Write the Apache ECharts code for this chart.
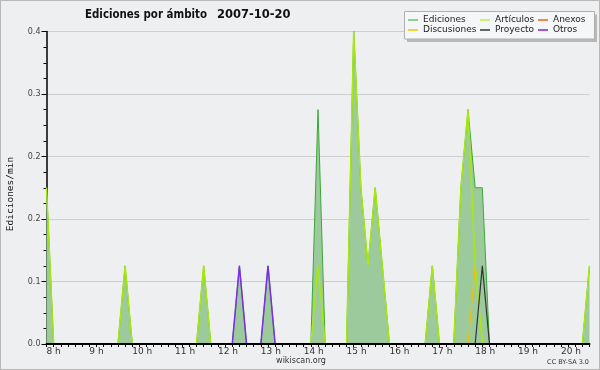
<!DOCTYPE html>
<html>
<head>
<meta charset="utf-8">
<script src="https://cdn.jsdelivr.net/npm/echarts@6/dist/echarts.min.js"></script>
<style>
  html, body { margin: 0; padding: 0; background: #eeeff0; }
  #chart { width: 600px; height: 370px; }
</style>
</head>
<body>
<div id="chart"></div>
<script>
// ---- Data (10-minute bins, 8:00 to 20:40) ----
const categories = [
  '8:00','8:10','8:20','8:30','8:40','8:50',
  '9:00','9:10','9:20','9:30','9:40','9:50',
  '10:00','10:10','10:20','10:30','10:40','10:50',
  '11:00','11:10','11:20','11:30','11:40','11:50',
  '12:00','12:10','12:20','12:30','12:40','12:50',
  '13:00','13:10','13:20','13:30','13:40','13:50',
  '14:00','14:10','14:20','14:30','14:40','14:50',
  '15:00','15:10','15:20','15:30','15:40','15:50',
  '16:00','16:10','16:20','16:30','16:40','16:50',
  '17:00','17:10','17:20','17:30','17:40','17:50',
  '18:00','18:10','18:20','18:30','18:40','18:50',
  '19:00','19:10','19:20','19:30','19:40','19:50',
  '20:00','20:10','20:20','20:30','20:40'
];
const hourLabels = ['8 h','9 h','10 h','11 h','12 h','13 h','14 h','15 h','16 h','17 h','18 h','19 h','20 h'];
const yTickValues = [0, 0.08, 0.16, 0.24, 0.32, 0.4];

const ediciones = [
  0.2,0,0,0,0,0,
  0,0,0,0,0,0.1,
  0,0,0,0,0,0,
  0,0,0,0,0.1,0,
  0,0,0,0.1,0,0,
  0,0.1,0,0,0,0,
  0,0,0.3,0,0,0,
  0,0.4,0.2,0.1,0.2,0.1,
  0,0,0,0,0,0,
  0.1,0,0,0,0.2,0.3,
  0.2,0.2,0,0,0,0,
  0,0,0,0,0,0,
  0,0,0,0,0.1
];
const articulos = [
  0.2,0,0,0,0,0,
  0,0,0,0,0,0.1,
  0,0,0,0,0,0,
  0,0,0,0,0.1,0,
  0,0,0,0,0,0,
  0,0,0,0,0,0,
  0,0,0.1,0,0,0,
  0,0.4,0.2,0.1,0.2,0.1,
  0,0,0,0,0,0,
  0.1,0,0,0,0.2,0.3,
  0.1,0,0,0,0,0,
  0,0,0,0,0,0,
  0,0,0,0,0.1
];
const discusiones = [
  0,0,0,0,0,0, 0,0,0,0,0,0, 0,0,0,0,0,0, 0,0,0,0,0,0,
  0,0,0,0,0,0, 0,0,0,0,0,0, 0,0,0,0,0,0, 0,0,0,0,0,0,
  0,0,0,0,0,0, 0,0,0,0,0,0, 0.1,0,0,0,0,0, 0,0,0,0,0,0,
  0,0,0,0,0
];
const proyecto = [
  0,0,0,0,0,0, 0,0,0,0,0,0, 0,0,0,0,0,0, 0,0,0,0,0,0,
  0,0,0,0,0,0, 0,0,0,0,0,0, 0,0,0,0,0,0, 0,0,0,0,0,0,
  0,0,0,0,0,0, 0,0,0,0,0,0, 0,0.1,0,0,0,0, 0,0,0,0,0,0,
  0,0,0,0,0
];
const anexos = [
  0,0,0,0,0,0, 0,0,0,0,0,0, 0,0,0,0,0,0, 0,0,0,0,0,0,
  0,0,0,0,0,0, 0,0,0,0,0,0, 0,0,0,0,0,0, 0,0,0,0,0,0,
  0,0,0,0,0,0, 0,0,0,0,0,0, 0,0,0,0,0,0, 0,0,0,0,0,0,
  0,0,0,0,0
];
const otros = [
  0,0,0,0,0,0, 0,0,0,0,0,0, 0,0,0,0,0,0, 0,0,0,0,0,0,
  0,0,0,0.1,0,0, 0,0.1,0,0,0,0, 0,0,0,0,0,0, 0,0,0,0,0,0,
  0,0,0,0,0,0, 0,0,0,0,0,0, 0,0,0,0,0,0, 0,0,0,0,0,0,
  0,0,0,0,0
];

const chart = echarts.init(document.getElementById('chart'), null, { renderer: 'canvas' });
const font = 'DejaVu Sans';

function lineSeries(name, data, color, width, z) {
  return {
    name: name, type: 'line', data: data, color: color,
    symbol: 'none', z: z, animation: false,
    lineStyle: { color: color, width: width }
  };
}
function legendBlock(left, items) {
  return {
    orient: 'vertical', left: left, top: 15, padding: 0, itemGap: 0,
    itemWidth: 10, itemHeight: 2, icon: 'rect', z: 21, selectedMode: false,
    textStyle: { fontFamily: font, fontSize: 9, color: '#222', lineHeight: 10, padding: [0, 0, 0, 0] },
    data: items.map(it => ({ name: it[0], itemStyle: { color: it[1] } }))
  };
}

const option = {
  backgroundColor: '#eeeff0',
  animation: false,
  grid: { left: 46.5, right: 10.5, top: 31.5, bottom: 26, containLabel: false },
  xAxis: {
    type: 'category', boundaryGap: false, data: categories, z: 15,
    axisLine: { lineStyle: { color: '#000', width: 2 } },
    axisTick: { show: true, interval: 0, length: 3, lineStyle: { color: '#000', width: 1 } },
    axisLabel: {
      interval: (i) => i % 6 === 0,
      formatter: (v, i) => hourLabels[i / 6],
      align: 'left', margin: 3,
      fontFamily: font, fontSize: 9, color: '#333'
    },
    splitLine: { show: false }
  },
  yAxis: {
    type: 'value', min: yTickValues[0], max: yTickValues[yTickValues.length - 1], interval: 0.08,
    axisLine: { show: true, lineStyle: { color: '#000', width: 1.5 } },
    axisTick: { show: true, length: 5, lineStyle: { color: '#000' } },
    minorTick: { show: true, splitNumber: 4, length: 3, lineStyle: { color: '#000' } },
    axisLabel: {
      formatter: (v) => v.toFixed(1), margin: 6,
      fontFamily: font, fontSize: 8, color: '#444'
    },
    splitLine: { show: true, lineStyle: { color: '#cdcecf', width: 1 } }
  },
  legend: [
    legendBlock(408, [['Ediciones', '#8fd08f'], ['Discusiones', '#f5d040']]),
    legendBlock(480, [['Artículos', '#cdef6a'], ['Proyecto', '#666666']]),
    legendBlock(538, [['Anexos', '#ee8855'], ['Otros', '#9a55ee']])
  ],
  graphic: [
    { type: 'rect', z: 0, silent: true, shape: { x: 0, y: 0, width: 600, height: 370 },
      style: { fill: 'none', stroke: '#b8b8b8', lineWidth: 2 } },
    { type: 'text', z: 20, silent: true, x: 85, y: 15, scaleX: 0.893,
      style: { text: 'Ediciones por ámbito', font: 'bold 11.5px "DejaVu Sans"', fill: '#111',
               align: 'left', verticalAlign: 'middle' } },
    { type: 'text', z: 20, silent: true, x: 217, y: 15,
      style: { text: '2007-10-20', font: 'bold 11.5px "DejaVu Sans"', fill: '#111',
               align: 'left', verticalAlign: 'middle' } },
    { type: 'text', z: 20, silent: true, x: 11, y: 194, rotation: Math.PI / 2,
      style: { text: 'Ediciones/min', font: '9.5px "DejaVu Sans Mono"', fill: '#111',
               align: 'center', verticalAlign: 'middle' } },
    { type: 'rect', z: 19, silent: true, shape: { x: 407, y: 14.5, width: 190, height: 27.5 },
      style: { fill: '#b8b8b8' } },
    { type: 'rect', z: 20, silent: true, shape: { x: 404.5, y: 11.5, width: 190, height: 27.5 },
      style: { fill: '#f5f6f7', stroke: '#b0b0b0', lineWidth: 1 } },
    { type: 'text', z: 20, silent: true, x: 301, y: 361,
      style: { text: 'wikiscan.org', font: '8px "DejaVu Sans"', fill: '#333',
               align: 'center', verticalAlign: 'middle' } },
    { type: 'text', z: 20, silent: true, x: 589, y: 362.5,
      style: { text: 'CC BY-SA 3.0', font: '6.5px "DejaVu Sans"', fill: '#333',
               align: 'right', verticalAlign: 'middle' } }
  ],
  series: [
    Object.assign(lineSeries('Ediciones', ediciones, '#3aa83a', 1, 2), {
      areaStyle: { color: '#9dca9d', opacity: 1 }
    }),
    lineSeries('Anexos', anexos, '#f08040', 1, 3),
    lineSeries('Discusiones', discusiones, '#f0c000', 1.2, 4),
    lineSeries('Artículos', articulos, '#a8e810', 1.5, 5),
    lineSeries('Proyecto', proyecto, '#333333', 1.2, 6),
    lineSeries('Otros', otros, '#7a2ee8', 1.5, 7)
  ]
};
chart.setOption(option);
</script>
</body>
</html>
